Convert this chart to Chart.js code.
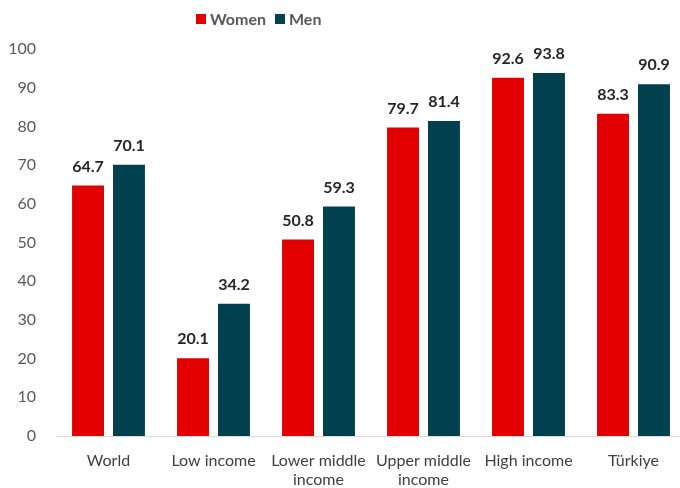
<!DOCTYPE html>
<html>
<head>
<meta charset="utf-8">
<script src="https://cdn.jsdelivr.net/npm/chart.js@4/dist/chart.umd.min.js"></script>
<style>
  html, body { margin: 0; padding: 0; background: #fff; overflow: hidden; }
  #wrap { position: relative; width: 686px; height: 488px; }
  #legend { position: absolute; left: 196px; top: 9px; font: bold 16px Lato, sans-serif; color: #595959; display: flex; align-items: center; }
  #legend span.box { display: inline-block; width: 10px; height: 10px; margin-right: 4px; }
  #legend span.item { display: flex; align-items: center; margin-right: 9px; }
</style>
</head>
<body>
<div id="wrap">
  <canvas id="chart" width="686" height="488"></canvas>
  <div id="legend"></div>
</div>
<script>
// values
const categories = [["World"], ["Low income"], ["Lower middle", "income"], ["Upper middle", "income"], ["High income"], ["Türkiye"]];
const women = [64.7, 20.1, 50.8, 79.7, 92.6, 83.3];
const men = [70.1, 34.2, 59.3, 81.4, 93.8, 90.9];
const seriesNames = ["Women", "Men"];
const colors = ["#E30000", "#00404F"];

// little legend in html, it sits left of centre in the original
const legendDiv = document.getElementById('legend');
seriesNames.forEach((name, i) => {
  legendDiv.innerHTML += '<span class="item"><span class="box" style="background:' + colors[i] + '"></span>' + name + '</span>';
});

// draws the numbers above each bar
const barLabels = {
  id: 'barLabels',
  afterDatasetsDraw(chart) {
    const ctx = chart.ctx;
    ctx.save();
    ctx.font = 'bold 16px Lato, sans-serif';
    ctx.fillStyle = '#262626';
    ctx.textAlign = 'center';
    ctx.textBaseline = 'bottom';
    chart.data.datasets.forEach((ds, i) => {
      chart.getDatasetMeta(i).data.forEach((bar, j) => {
        ctx.fillText(ds.data[j].toFixed(1), bar.x, bar.y - 11);
      });
    });
    ctx.restore();
  }
};

const ctx = document.getElementById('chart').getContext('2d');
const chart = new Chart(ctx, {
  type: 'bar',
  data: {
    labels: categories,
    datasets: [
      { label: seriesNames[0], data: women, backgroundColor: colors[0] },
      { label: seriesNames[1], data: men, backgroundColor: colors[1] }
    ]
  },
  options: {
    responsive: false,
    animation: false,
    categoryPercentage: 0.78,
    barPercentage: 0.78,
    layout: { padding: { top: 49, right: 0, left: 0, bottom: 0 } },
    plugins: {
      legend: { display: false },
      tooltip: { enabled: false }
    },
    scales: {
      x: {
        grid: { display: false },
        border: { color: '#D9D9D9', width: 1 },
        ticks: { color: '#404040', font: { family: 'Lato', size: 16 }, maxRotation: 0, autoSkip: false, padding: 7 },
        afterFit(scale) { scale.height = 52; }
      },
      y: {
        min: 0,
        max: 100,
        grid: { display: false },
        border: { display: false },
        ticks: { stepSize: 10, color: '#595959', font: { family: 'Lato', size: 16 }, padding: 12 },
        afterFit(scale) { scale.width = 56; }
      }
    }
  },
  plugins: [barLabels]
});
</script>
</body>
</html>
